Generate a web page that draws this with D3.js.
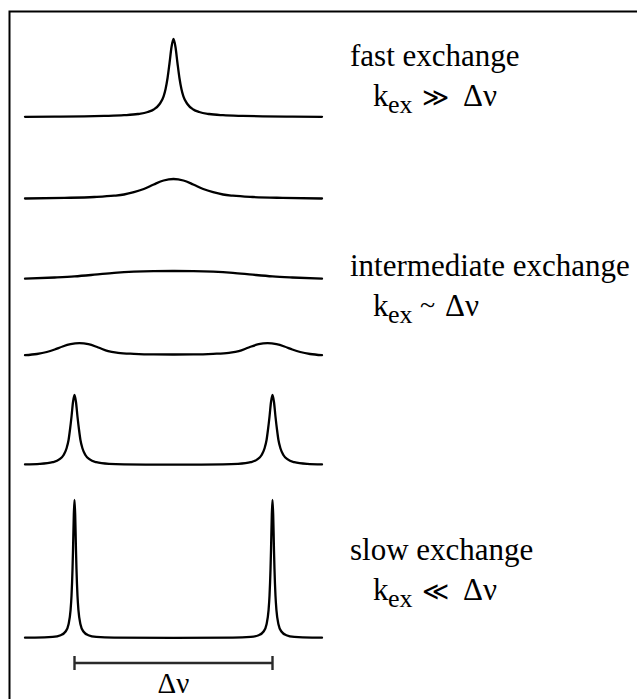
<!DOCTYPE html>
<html>
<head>
<meta charset="utf-8">
<script src="https://cdn.jsdelivr.net/npm/d3@7"></script>
<style>
  html, body { margin: 0; background: #fff; font-family: "Liberation Serif", "Times New Roman", serif; }
  svg text { font-family: "Liberation Serif", "Times New Roman", serif !important; }
</style>
</head>
<body>
<svg id="chart" width="637" height="699"></svg>
<script>
// Frequency axis in Hz; the two exchanging sites sit at -50 and +50 Hz (Δν = 100 Hz).
const freqDomain = [-75, 75];
const siteFrequencies = [-50, 50];

// Traces are stacked top to bottom; each has its own baseline offset (intensity units).
const spectrumNames = ["fast", "near coalescence", "coalescence", "intermediate", "slow, broadened", "slow"];
const baselineOffsets = [521, 439, 359, 282, 173, 0];

// [frequency (Hz), intensity] pairs for each trace
const fastTrace = [
  [-75,0.2],[-60,0.4],[-45,0.7],[-35,1.1],[-25,1.8],[-18,3.0],[-13,5.0],[-10,7.5],[-7,13],
  [-5,20.6],[-4,28],[-3,39],[-2,54],[-1,70],[0,78],[1,70],[2,54],[3,39],[4,28],[5,20.6],
  [7,13],[10,7.5],[13,5.0],[18,3.0],[25,1.8],[35,1.1],[45,0.7],[60,0.4],[75,0.2]
];
const nearCoalescenceTrace = [
  [-75,0.5],[-55,1.1],[-40,2.0],[-30,3.3],[-25,4.5],[-20,6.8],[-15,10],[-10,14.5],[-5,18.5],
  [0,20],[5,18.5],[10,14.5],[15,10],[20,6.8],[25,4.5],[30,3.3],[40,2.0],[55,1.1],[75,0.5]
];
const coalescenceTrace = [
  [-75,0.3],[-60,1.5],[-50,2.6],[-40,4.3],[-30,6.2],[-20,7.4],[-10,7.9],[0,8],
  [10,7.9],[20,7.4],[30,6.2],[40,4.3],[50,2.6],[60,1.5],[75,0.3]
];
const intermediateTrace = [
  [-75,0.8],[-69,2.0],[-64,4.0],[-60,6.5],[-56,9.5],[-52,11.8],[-47.5,12.8],[-43,11.8],
  [-38,8.5],[-33,4.8],[-28,3.2],[-20,2.2],[-10,1.6],[0,1.5],[10,1.6],[20,2.2],[28,3.2],
  [33,4.8],[38,8.5],[43,11.8],[47.5,12.8],[52,11.8],[56,9.5],[60,6.5],[64,4.0],[69,2.0],[75,0.8]
];
const slowBroadTrace = [
  [-75,0.6],[-67.5,1.1],[-61,2.8],[-57.5,5.8],[-55.5,10],[-54,16.8],[-53,25],[-52.3,35],
  [-51.5,48.5],[-50.75,63],[-50,70],[-49.25,63],[-48.5,48.5],[-47.7,35],[-47,25],[-46,16.8],
  [-44.5,10],[-42.5,5.8],[-39,2.8],[-32.5,1.1],[-25,0.6],[-12,0.45],[0,0.4],[12,0.45],
  [25,0.6],[32.5,1.1],[39,2.8],[42.5,5.8],[44.5,10],[46,16.8],[47,25],[47.7,35],[48.5,48.5],
  [49.25,63],[50,70],[50.75,63],[51.5,48.5],[52.3,35],[53,25],[54,16.8],[55.5,10],[57.5,5.8],
  [61,2.8],[67.5,1.1],[75,0.6]
];
const slowTrace = [
  [-75,0.3],[-70,0.35],[-61,1.1],[-57,2.8],[-54.5,6.5],[-53,13.8],[-52,27.6],[-51.5,42.5],
  [-51,69],[-50.75,88],[-50.35,123],[-50,138],[-49.65,123],[-49.25,88],[-49,69],[-48.5,42.5],
  [-48,27.6],[-47,13.8],[-45.5,6.5],[-43,2.8],[-39,1.1],[-30,0.35],[0,0.2],[30,0.35],
  [39,1.1],[43,2.8],[45.5,6.5],[47,13.8],[48,27.6],[48.5,42.5],[49,69],[49.25,88],[49.65,123],
  [50,138],[50.35,123],[50.75,88],[51,69],[51.5,42.5],[52,27.6],[53,13.8],[54.5,6.5],[57,2.8],
  [61,1.1],[70,0.35],[75,0.3]
];
const traces = [fastTrace, nearCoalescenceTrace, coalescenceTrace, intermediateTrace, slowBroadTrace, slowTrace];

// Regime annotations
const regimeTitles = ["fast exchange", "intermediate exchange", "slow exchange"];
const regimeRelations = ["\u226B", "~", "\u226A"];
const rateSymbol = "k";
const rateSubscript = "ex";
const splittingLabel = "\u0394\u03BD";

const svg = d3.select("#chart");

// Frame: top and left rules of the panel
svg.append("path")
  .attr("d", "M9.5,720 V11.5 H650")
  .attr("fill", "none")
  .attr("stroke", "#000")
  .attr("stroke-width", 2);

const x = d3.scaleLinear().domain(freqDomain).range([25, 322]);
const y = d3.scaleLinear().domain([0, 600]).range([638, 38]);

const line = d3.line()
  .x(d => x(d[0]))
  .curve(d3.curveMonotoneX);

svg.append("g")
  .selectAll("path")
  .data(traces.map((t, i) => ({ name: spectrumNames[i], points: t, offset: baselineOffsets[i] })))
  .join("path")
  .attr("class", "trace")
  .attr("d", d => line.y(p => y(p[1] + d.offset))(d.points))
  .attr("fill", "none")
  .attr("stroke", "#000")
  .attr("stroke-width", 2.3)
  .attr("stroke-linejoin", "round")
  .attr("stroke-linecap", "round");

// Δν bracket under the slow-exchange trace
const bracketY = 663;
const bracket = svg.append("g").attr("stroke", "#2a2a2a").attr("stroke-width", 2.4);
bracket.append("line")
  .attr("x1", x(siteFrequencies[0])).attr("x2", x(siteFrequencies[1]))
  .attr("y1", bracketY).attr("y2", bracketY);
bracket.selectAll("line.tick")
  .data(siteFrequencies)
  .join("line")
  .attr("class", "tick")
  .attr("x1", d => x(d)).attr("x2", d => x(d))
  .attr("y1", bracketY - 7).attr("y2", bracketY + 7);

// Regime labels to the right of the stack, plus the Δν caption under the bracket
const labelX = 350;
const titleBaselines = [66, 276, 560];
const lineGap = 40;

const textItems = [
  { x: x(d3.mean(siteFrequencies)), y: 693, size: 29, text: splittingLabel, anchor: "middle" }
];
regimeTitles.forEach((title, i) => {
  const relY = titleBaselines[i] + lineGap;
  const isTilde = regimeRelations[i] === "~";
  textItems.push(
    { x: labelX, y: titleBaselines[i], size: 31, text: title },
    { x: labelX + 23, y: relY, size: 31, text: rateSymbol },
    { x: labelX + 38, y: relY + 7, size: 26, text: rateSubscript },
    { x: labelX + (isTilde ? 70 : 72), y: relY - (isTilde ? 2 : 0), size: isTilde ? 28 : 26, text: regimeRelations[i] },
    { x: labelX + (isTilde ? 95 : 113), y: relY, size: 31, text: splittingLabel }
  );
});

svg.append("g")
  .selectAll("text")
  .data(textItems)
  .join("text")
  .attr("x", d => d.x)
  .attr("y", d => d.y)
  .attr("text-anchor", d => d.anchor || "start")
  .style("font-size", d => d.size + "px")
  .text(d => d.text);
</script>
</body>
</html>
